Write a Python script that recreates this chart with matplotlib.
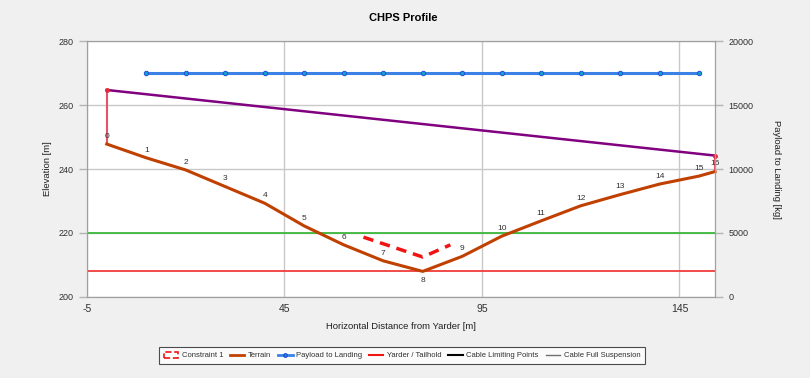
import numpy as np
import matplotlib
matplotlib.use("Agg")
import matplotlib.pyplot as plt
from matplotlib.lines import Line2D
from matplotlib.patches import Rectangle

plt.rcParams['font.family'] = ['Liberation Sans', 'DejaVu Sans']
plt.rcParams['axes.unicode_minus'] = False

# terrain profile (point number, distance, elevation)
terrain_x = [0, 10, 20, 30, 40, 50, 60, 70, 80, 90, 100, 110, 120, 130, 140, 150, 154]
terrain_y = [247.8, 243.5, 239.7, 234.5, 229.3, 222.2, 216.3, 211.3, 208.0, 212.7,
             219.0, 223.8, 228.5, 232.0, 235.3, 237.8, 239.2]
terrain_labels = [str(i) for i in range(len(terrain_x))]

# payload to landing [kg]
payload_x = [10, 20, 30, 40, 50, 60, 70, 80, 90, 100, 110, 120, 130, 140, 150]
payload_kg = [17500] * len(payload_x)

# constraint 1
constraint_x = [65, 80, 87]
constraint_y = [218.7, 212.5, 216.3]

# yarder / tailhold
yarder_x, yarder_top = 0, 264.7
tail_x, tail_top = 154, 244.2

# horizontal reference lines
green_level = 220
red_level = 208

fig = plt.figure(figsize=(8.1, 3.78), dpi=100)
fig.patch.set_facecolor('#f0f0f0')
ax = fig.add_axes([0.1074, 0.2143, 0.7753, 0.6772])
ax.set_facecolor('white')

ax.set_xlim(-5, 154)
ax.set_ylim(200, 280)
ax.set_xticks([-5, 45, 95, 145])
ax.set_yticks([200, 220, 240, 260, 280])
ax.grid(True, color='#c8c8c8', linewidth=1)
ax.set_axisbelow(True)
for s in ax.spines.values():
    s.set_color('#a0a0a0')
ax.tick_params(axis='y', colors='#b4b4b4', labelcolor='#303030', labelsize=6.5, length=6, width=1)
ax.tick_params(axis='x', length=0, labelsize=7.5, labelcolor='#303030', pad=5)

ax2 = ax.twinx()
ax2.set_ylim(0, 20000)
ax2.set_yticks([0, 5000, 10000, 15000, 20000])
ax2.tick_params(axis='y', colors='#b4b4b4', labelcolor='#303030', labelsize=6.5, length=6, width=1)
for s in ax2.spines.values():
    s.set_color('#a0a0a0')

# reference lines
ax.axhline(green_level, color='#3cb93c', linewidth=1.3)
ax.axhline(red_level, color='#f03c3c', linewidth=1.3)

# cable
ax.plot([yarder_x, tail_x], [yarder_top, tail_top], color='#800080', linewidth=1.8)

# yarder / tailhold
ax.plot([yarder_x, yarder_x], [terrain_y[0], yarder_top], color='#e8506e', linewidth=1.5)
ax.plot([tail_x, tail_x], [terrain_y[-1], tail_top], color='#e8506e', linewidth=1.5, clip_on=False)
ax.plot([yarder_x, tail_x], [yarder_top, tail_top], 'o', color='#e8283c', markersize=2.5, clip_on=False)

# terrain
ax.plot(terrain_x, terrain_y, color='#c04000', linewidth=2.2, solid_joinstyle='round', clip_on=False)
for i, (x, y) in enumerate(zip(terrain_x, terrain_y)):
    dy = -3.0 if i == 8 else 2.4
    ax.text(x, y + dy, terrain_labels[i], fontsize=6, color='#303030', ha='center', va='center')

# constraint
ax.plot(constraint_x, constraint_y, color='#f01414', linewidth=2.5, linestyle=(0, (3, 2)))

# payload
ax2.plot(payload_x, payload_kg, color='#3c82e6', linewidth=2.2, marker='o', markersize=3.2,
         markerfacecolor='#14a0c8', markeredgecolor='#1e50dc', markeredgewidth=0.7)

ax.set_xlabel('Horizontal Distance from Yarder [m]', fontsize=6.8, color='#202020', labelpad=6)
ax.set_ylabel('Elevation [m]', fontsize=6.8, color='#202020', labelpad=5)
ax2.set_ylabel('Payload to Landing [kg]', fontsize=6.8, color='#202020', rotation=270, labelpad=20)
fig.text(0.4975, 0.953, 'CHPS Profile', fontsize=8, fontweight='bold', ha='center', va='center')

handles = [
    Rectangle((0, 0), 1, 1, facecolor='white', edgecolor='#f01414', linestyle='--', linewidth=1.2),
    Line2D([], [], color='#c04000', linewidth=2),
    Line2D([], [], color='#3c82e6', linewidth=2, marker='o', markersize=2.5,
           markerfacecolor='#14a0c8', markeredgecolor='#1e50dc'),
    Line2D([], [], color='#f01414', linewidth=1.5),
    Line2D([], [], color='black', linewidth=1.5),
    Line2D([], [], color='#707070', linewidth=1),
]
names = ['Constraint 1', 'Terrain', 'Payload to Landing', 'Yarder / Tailhold',
         'Cable Limiting Points', 'Cable Full Suspension']
leg = fig.legend(handles, names, loc='center', bbox_to_anchor=(0.4962, 0.0595), ncol=6,
                 fontsize=5.5, frameon=True, fancybox=False, handlelength=1.9, handletextpad=0.45,
                 columnspacing=0.9, borderpad=0.6, handleheight=0.8)
leg.get_frame().set_edgecolor('#202020')
leg.get_frame().set_linewidth(0.8)
for t in leg.get_texts():
    t.set_color('#303030')

fig.savefig('out.png', dpi=100, facecolor=fig.get_facecolor())
